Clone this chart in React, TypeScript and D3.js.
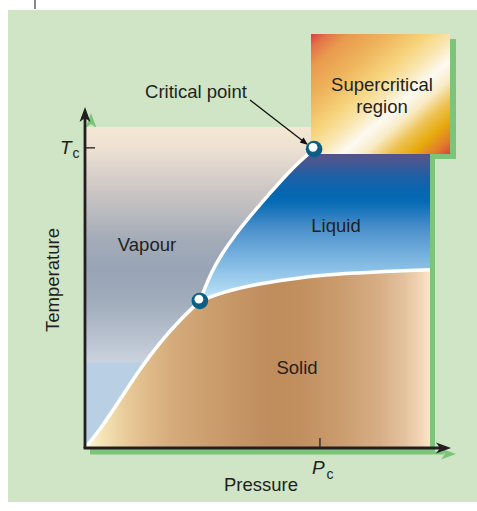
import React from "react";
import * as d3 from "d3";

// ---- data (arbitrary pressure / temperature units, 0-100) ----
const sublimationP = [0, 4.3, 10.1, 15.9, 21.7, 27.5, 33.3];
const sublimationT = [0, 5.6, 15.0, 24.6, 32.9, 39.9, 45.8];
const vaporP = [33.3, 34.5, 36.5, 39.4, 43.5, 48.4, 53.6, 58.6, 62.3, 66.4];
const vaporT = [45.8, 49.2, 54.5, 60.1, 66.4, 72.9, 79.4, 85.4, 89.4, 93.1];
const meltP = [33.3, 40.0, 49.9, 59.4, 69.0, 78.8, 88.4, 100];
const meltT = [45.8, 48.6, 51.1, 52.6, 53.9, 54.5, 55.1, 55.5];
const specialPointsP = [66.4, 33.3]; // critical, triple
const specialPointsT = [93.1, 45.8];
const pressureTicks = [68.1];
const pressureTickLabels = ["P"];
const temperatureTicks = [93.5];
const temperatureTickLabels = ["T"];
const regionNames = ["Vapour", "Liquid", "Solid"];

const W = 477;
const H = 511;
const FONT = "'Liberation Sans', Arial, Helvetica, sans-serif";
const INK = "#231f20";
const SHADOW = "#7cc47a";

export default function App() {
  const x = d3.scaleLinear().domain([0, 100]).range([85, 430]);
  const y = d3.scaleLinear().domain([0, 100]).range([448, 127]);

  const pts = (ps: number[], ts: number[]) => ps.map((p, i) => [x(p), y(ts[i])] as [number, number]);
  const curve = d3.line().curve(d3.curveBasis);

  const subl = pts(sublimationP, sublimationT);
  const vap = pts(vaporP, vaporT);
  const melt = pts(meltP, meltT);

  const sublPath = curve(subl) as string;
  const vapPath = curve(vap) as string;
  const meltPath = curve(melt) as string;

  const toL = (s: string) => "L" + s.slice(1);

  const crit = [x(specialPointsP[0]), y(specialPointsT[0])];
  const trip = [x(specialPointsP[1]), y(specialPointsT[1])];

  const x0 = x(0), y0 = y(0), yTop = y(100), xR = x(100);

  const solidD = sublPath + toL(meltPath) + `L${xR},${y0}Z`;
  const liquidD = vapPath + `L${crit[0]},${yTop}L${xR},${yTop}L${xR},${y0}L${trip[0]},${y0}Z`;

  const arrowHead = (tx: number, ty: number, dir: "up" | "right", len = 15, hw = 5.5) => {
    if (dir === "up")
      return `M${tx},${ty}L${tx + hw},${ty + len}L${tx},${ty + len - 4}L${tx - hw},${ty + len}Z`;
    return `M${tx},${ty}L${tx - len},${ty - hw}L${tx - len + 4},${ty}L${tx - len},${ty + hw}Z`;
  };

  const box = { x: 311, y: 34, w: 139, h: 120 };
  const sh = 5;

  // critical point annotation arrow
  const a0 = [250, 100];
  const a1 = [308, 145];
  const ang = Math.atan2(a1[1] - a0[1], a1[0] - a0[0]);
  const ahL = 8, ahW = 3.2;
  const ah = `M${a1[0]},${a1[1]}L${a1[0] - ahL * Math.cos(ang) + ahW * Math.sin(ang)},${a1[1] - ahL * Math.sin(ang) - ahW * Math.cos(ang)}L${a1[0] - ahL * Math.cos(ang) - ahW * Math.sin(ang)},${a1[1] - ahL * Math.sin(ang) + ahW * Math.cos(ang)}Z`;

  return (
    <svg width={W} height={H} style={{ position: "absolute", left: 0, top: 0, display: "block" }} fontFamily={FONT}>
      <defs>
        <linearGradient id="vapourG" gradientUnits="userSpaceOnUse" x1={0} y1={127} x2={0} y2={448}>
          <stop offset={0} stopColor="#f5e7d2" />
          <stop offset={(150 - 127) / 321} stopColor="#ece0d2" />
          <stop offset={(185 - 127) / 321} stopColor="#d0c9c6" />
          <stop offset={(210 - 127) / 321} stopColor="#bcbcbf" />
          <stop offset={(240 - 127) / 321} stopColor="#a3abb8" />
          <stop offset={(270 - 127) / 321} stopColor="#98a4b5" />
          <stop offset={(300 - 127) / 321} stopColor="#a0abbb" />
          <stop offset={(330 - 127) / 321} stopColor="#b3bdcb" />
          <stop offset={(362 - 127) / 321} stopColor="#c9d2dd" />
          <stop offset={(363 - 127) / 321} stopColor="#b9d0e4" />
          <stop offset={1} stopColor="#b9d0e4" />
        </linearGradient>
        <linearGradient id="liquidG" gradientUnits="userSpaceOnUse" x1={0} y1={150} x2={0} y2={300}>
          <stop offset={0} stopColor="#5b4f8a" />
          <stop offset={0.07} stopColor="#4a5790" />
          <stop offset={0.17} stopColor="#1f5fa3" />
          <stop offset={0.27} stopColor="#0866b0" />
          <stop offset={0.34} stopColor="#0469b3" />
          <stop offset={0.52} stopColor="#4a8fcb" />
          <stop offset={0.72} stopColor="#7ab4e0" />
          <stop offset={0.9} stopColor="#a5d3ef" />
          <stop offset={1} stopColor="#c6e5f6" />
        </linearGradient>
        <linearGradient id="solidG" gradientUnits="userSpaceOnUse" x1={85} y1={0} x2={430} y2={0}>
          <stop offset={0} stopColor="#fdf8d8" />
          <stop offset={(100 - 85) / 345} stopColor="#f6e6b8" />
          <stop offset={(130 - 85) / 345} stopColor="#e6c795" />
          <stop offset={(170 - 85) / 345} stopColor="#d6ac7c" />
          <stop offset={(220 - 85) / 345} stopColor="#c99a6a" />
          <stop offset={(275 - 85) / 345} stopColor="#bf8c5c" />
          <stop offset={(300 - 85) / 345} stopColor="#c28f5f" />
          <stop offset={(340 - 85) / 345} stopColor="#ca9c6e" />
          <stop offset={(380 - 85) / 345} stopColor="#d7af86" />
          <stop offset={(405 - 85) / 345} stopColor="#e4c29f" />
          <stop offset={(420 - 85) / 345} stopColor="#f1d5b6" />
          <stop offset={1} stopColor="#fde4c8" />
        </linearGradient>
        <linearGradient id="superG" x1={0} y1={0} x2={1} y2={1}>
          <stop offset={0} stopColor="#d8403f" />
          <stop offset={0.06} stopColor="#e2724a" />
          <stop offset={0.14} stopColor="#e99a4e" />
          <stop offset={0.28} stopColor="#eeb45c" />
          <stop offset={0.42} stopColor="#f6d47c" />
          <stop offset={0.52} stopColor="#f9e6b0" />
          <stop offset={0.61} stopColor="#fdfaf2" />
          <stop offset={0.69} stopColor="#f8ebc6" />
          <stop offset={0.78} stopColor="#edc150" />
          <stop offset={0.86} stopColor="#e6aa0c" />
          <stop offset={0.94} stopColor="#e07a2c" />
          <stop offset={1} stopColor="#d6443c" />
        </linearGradient>
        <clipPath id="plotClip">
          <rect x={x0} y={yTop} width={xR - x0} height={y0 - yTop} />
        </clipPath>
      </defs>

      {/* background */}
      <rect x={8} y={10} width={469} height={492} fill="#cfe5c5" />
      <line x1={35} y1={0} x2={35} y2={9} stroke="#888" strokeWidth={2} />

      {/* shadows */}
      <g fill={SHADOW}>
        <rect x={x0 + sh} y={yTop + sh} width={xR - x0} height={y0 - yTop} />
        <rect x={box.x + 6} y={box.y + 5} width={box.w} height={box.h} />
        <path d={arrowHead(x0 + sh + 1, 107 + sh + 1, "up")} />
        <path d={arrowHead(451 + sh, y0 + sh + 1, "right")} />
        <rect x={x0 + sh} y={y0 + sh - 1.5} width={451 - 12 - x0} height={3} />
      </g>

      {/* regions */}
      <g clipPath="url(#plotClip)">
        <rect x={x0} y={yTop} width={xR - x0} height={y0 - yTop} fill="url(#vapourG)" />
        <path d={liquidD} fill="url(#liquidG)" />
        <path d={solidD} fill="url(#solidG)" />
        <path d={sublPath} fill="none" stroke="#fff" strokeWidth={3.5} />
        <path d={vapPath} fill="none" stroke="#fff" strokeWidth={3.5} />
        <path d={meltPath} fill="none" stroke="#fff" strokeWidth={3.5} />
      </g>

      {/* supercritical box */}
      <rect x={box.x} y={box.y} width={box.w} height={box.h} fill="url(#superG)" />
      <text x={382} y={91} textAnchor="middle" fontSize={18.5} fill={INK}>Supercritical</text>
      <text x={382} y={113} textAnchor="middle" fontSize={18.5} fill={INK}>region</text>

      {/* axes */}
      <line x1={x0} y1={y0} x2={x0} y2={115} stroke={INK} strokeWidth={2.8} />
      <path d={arrowHead(x0, 107, "up")} fill={INK} />
      <line x1={x0 - 1.4} y1={y0} x2={443} y2={y0} stroke={INK} strokeWidth={2.8} />
      <path d={arrowHead(451, y0, "right")} fill={INK} />

      {/* ticks */}
      {temperatureTicks.map((t, i) => (
        <g key={"tt" + i}>
          <line x1={x0} x2={x0 + 10} y1={y(t)} y2={y(t)} stroke={INK} strokeWidth={1.3} />
          <text x={60} y={y(t) + 6} fontSize={19} fontStyle="italic" fill={INK}>{temperatureTickLabels[i]}</text>
          <text x={72.5} y={y(t) + 10} fontSize={14} fill={INK}>c</text>
        </g>
      ))}
      {pressureTicks.map((p, i) => (
        <g key={"pt" + i}>
          <line x1={x(p)} x2={x(p)} y1={y0} y2={y0 - 10} stroke={INK} strokeWidth={1.3} />
          <text x={x(p) - 8} y={474} fontSize={19} fontStyle="italic" fill={INK}>{pressureTickLabels[i]}</text>
          <text x={x(p) + 6.5} y={479} fontSize={14} fill={INK}>c</text>
        </g>
      ))}

      {/* axis titles */}
      <text x={261} y={491} textAnchor="middle" fontSize={18.5} fill={INK}>Pressure</text>
      <text transform="translate(59,280) rotate(-90)" textAnchor="middle" fontSize={18.5} fill={INK}>Temperature</text>

      {/* region labels */}
      <text x={147} y={251} textAnchor="middle" fontSize={18.5} fill={INK}>{regionNames[0]}</text>
      <text x={336} y={232} textAnchor="middle" fontSize={18.5} fill={INK}>{regionNames[1]}</text>
      <text x={297} y={374} textAnchor="middle" fontSize={18.5} fill={INK}>{regionNames[2]}</text>

      {/* critical point annotation */}
      <text x={196} y={98} textAnchor="middle" fontSize={18.5} fill={INK}>Critical point</text>
      <line x1={a0[0]} y1={a0[1]} x2={a1[0] - 4 * Math.cos(ang)} y2={a1[1] - 4 * Math.sin(ang)} stroke="#111" strokeWidth={1.3} />
      <path d={ah} fill="#111" />

      {/* special points */}
      {[crit, trip].map((c, i) => (
        <g key={"sp" + i}>
          <circle cx={c[0]} cy={c[1]} r={8.3} fill="#0c5f84" />
          <circle cx={c[0] - 1} cy={c[1] - 1.8} r={4.4} fill="#ffffff" />
        </g>
      ))}
    </svg>
  );
}
